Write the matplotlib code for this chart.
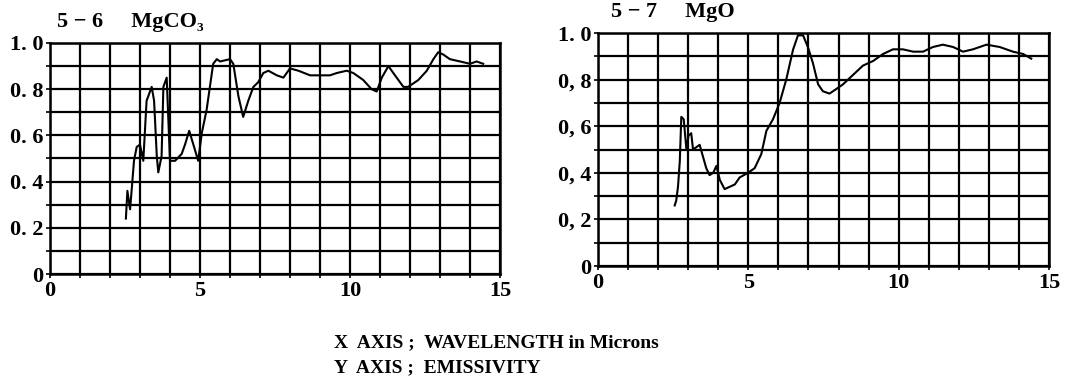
import matplotlib
matplotlib.use('Agg')
import matplotlib.pyplot as plt

# MgCO3 emissivity (5-6)
mgco3_x = [2.53, 2.58, 2.67, 2.72, 2.80, 2.89, 3.00, 3.11, 3.22, 3.39, 3.47, 3.56, 3.61,
           3.72, 3.78, 3.89, 4.00, 4.17, 4.39, 4.50, 4.64, 4.78, 4.94, 5.06, 5.22, 5.44,
           5.56, 5.67, 6.00, 6.11, 6.28, 6.44, 6.61, 6.78, 6.94, 7.11, 7.28, 7.56, 7.78,
           8.00, 8.28, 8.67, 9.00, 9.33, 9.56, 9.89, 10.11, 10.44, 10.72, 10.89, 11.06,
           11.28, 11.50, 11.78, 11.94, 12.28, 12.56, 12.78, 12.94, 13.11, 13.33, 13.67,
           14.00, 14.22, 14.44]
mgco3_y = [0.24, 0.36, 0.28, 0.36, 0.49, 0.55, 0.56, 0.49, 0.75, 0.81, 0.75, 0.51, 0.44,
           0.51, 0.81, 0.85, 0.49, 0.49, 0.52, 0.56, 0.62, 0.56, 0.49, 0.61, 0.71, 0.91,
           0.93, 0.92, 0.93, 0.91, 0.77, 0.68, 0.75, 0.81, 0.83, 0.87, 0.88, 0.86, 0.85,
           0.89, 0.88, 0.86, 0.86, 0.86, 0.87, 0.88, 0.87, 0.84, 0.80, 0.79, 0.85,
           0.90, 0.86, 0.81, 0.81, 0.84, 0.88, 0.93, 0.96, 0.95, 0.93, 0.92,
           0.91, 0.92, 0.91]

# MgO emissivity (5-7)
mgo_x = [2.55, 2.60, 2.66, 2.72, 2.77, 2.85, 2.94, 3.01, 3.10, 3.16, 3.27, 3.38, 3.49,
         3.60, 3.71, 3.83, 3.94, 4.05, 4.21, 4.38, 4.55, 4.71, 4.99, 5.21, 5.43, 5.60,
         5.82, 6.04, 6.26, 6.49, 6.65, 6.82, 6.98, 7.15, 7.32, 7.48, 7.70, 7.93, 8.15,
         8.48, 8.81, 9.15, 9.48, 9.81, 10.14, 10.48, 10.81, 11.14, 11.47, 11.81, 12.14,
         12.47, 12.92, 13.36, 13.80, 14.14, 14.41]
mgo_y = [0.26, 0.28, 0.34, 0.45, 0.64, 0.63, 0.50, 0.56, 0.57, 0.50, 0.51, 0.52, 0.47,
         0.42, 0.39, 0.40, 0.43, 0.37, 0.33, 0.34, 0.35, 0.38, 0.40, 0.42, 0.48, 0.58,
         0.63, 0.70, 0.80, 0.93, 0.99, 0.99, 0.94, 0.87, 0.78, 0.75, 0.74, 0.76, 0.78,
         0.82, 0.86, 0.88, 0.91, 0.93, 0.93, 0.92, 0.92, 0.94, 0.95, 0.94, 0.92,
         0.93, 0.95, 0.94, 0.92, 0.91, 0.89]

xticks = [0, 5, 10, 15]
yticks = [0, 0.2, 0.4, 0.6, 0.8, 1.0]
left_ylabels = ['0', '0. 2', '0. 4', '0. 6', '0. 8', '1. 0']
right_ylabels = ['0', '0, 2', '0, 4', '0, 6', '0, 8', '1. 0']

font = {'family': ['Liberation Serif', 'DejaVu Serif'], 'weight': 'bold'}

fig = plt.figure(figsize=(10.82, 3.88), dpi=100)
ax1 = fig.add_axes([0.0462, 0.2938, 0.4159, 0.5954])
ax2 = fig.add_axes([0.5527, 0.3144, 0.4168, 0.6005])


def style(ax, ylabels):
    ax.set_xlim(0, 15)
    ax.set_ylim(0, 1.0)
    ax.set_xticks(xticks)
    ax.set_yticks(yticks)
    ax.set_xticks(range(16), minor=True)
    ax.set_yticks([i / 10 for i in range(11)], minor=True)
    ax.grid(which='both', color='black', linewidth=1.6)
    ax.set_xticklabels([str(t) for t in xticks], fontdict=font, fontsize=16)
    ax.set_yticklabels(ylabels, fontdict=font, fontsize=16)
    ax.tick_params(which='both', length=3, width=1.2, pad=2)
    for s in ax.spines.values():
        s.set_linewidth(1.8)
    ax.set_axisbelow(True)


ax1.plot(mgco3_x, mgco3_y, color='black', linewidth=1.5)
style(ax1, left_ylabels)
ax2.plot(mgo_x, mgo_y, color='black', linewidth=1.5)
style(ax2, right_ylabels)

fig.text(0.053, 0.93, '5 \u2212 6     MgCO\u2083', fontdict=font, fontsize=16)
fig.text(0.565, 0.955, '5 \u2212 7     MgO', fontdict=font, fontsize=16)

fig.text(0.309, 0.105, 'X  AXIS ;  WAVELENGTH in Microns', fontdict=font, fontsize=14)
fig.text(0.309, 0.04, 'Y  AXIS ;  EMISSIVITY', fontdict=font, fontsize=14)

plt.savefig('out.png', dpi=100)
plt.close()
